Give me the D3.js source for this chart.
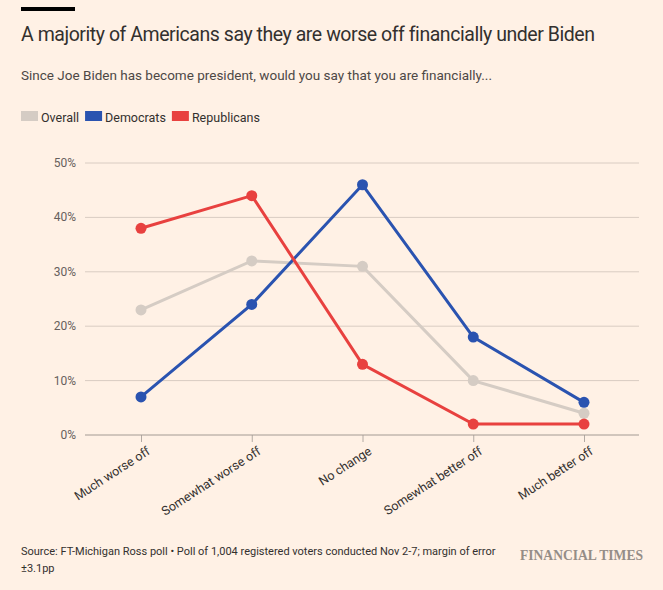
<!DOCTYPE html>
<html><head><meta charset="utf-8">
<script src="https://cdn.jsdelivr.net/npm/d3@7"></script>
<style>
body{margin:0;background:#fff1e5;}
svg{display:block;}
</style></head>
<body>
<svg id="c" width="663" height="590" font-family="Roboto, 'Noto Sans', sans-serif"></svg>
<script>
const categories = ["Much worse off","Somewhat worse off","No change","Somewhat better off","Much better off"];
const overall = [23, 32, 31, 10, 4];
const democrats = [7, 24, 46, 18, 6];
const republicans = [38, 44, 13, 2, 2];
const yTicks = [0, 10, 20, 30, 40, 50];
const seriesNames = ["Overall","Democrats","Republicans"];
const seriesColors = ["#d5ccc4","#2a53b0","#e8413f"];

const svg = d3.select("#c");
svg.append("rect").attr("width",663).attr("height",590).attr("fill","#fff1e5");
svg.append("rect").attr("x",21).attr("y",7).attr("width",54).attr("height",4).attr("fill","#000");
svg.append("text").attr("x",21).attr("y",41).attr("font-size",19.5).attr("fill","#33302e")
  .attr("letter-spacing",-0.45)
  .text("A majority of Americans say they are worse off financially under Biden");
svg.append("text").attr("x",21).attr("y",80).attr("font-size",13.5).attr("fill","#4d4845")
  .text("Since Joe Biden has become president, would you say that you are financially...");

// legend
const leg = svg.append("g");
let lx = 21;
seriesNames.forEach((n,i)=>{
  leg.append("rect").attr("x",lx).attr("y",111).attr("width",17).attr("height",10).attr("fill",seriesColors[i]);
  const t = leg.append("text").attr("x",lx+20).attr("y",121.5).attr("font-size",12.5).attr("fill","#33302e").text(n);
  lx += 20 + t.node().getComputedTextLength() + 6;
});

const x = d3.scalePoint().domain(categories).range([141,584]);
const y = d3.scaleLinear().domain([0,50]).range([435,163]);

const g = svg.append("g");
g.selectAll("line.grid").data(yTicks.filter(d=>d>0)).join("line")
  .attr("x1",85).attr("x2",639).attr("y1",d=>y(d)).attr("y2",d=>y(d))
  .attr("stroke","#d9ccc2").attr("stroke-width",1);
g.selectAll("text.yl").data(yTicks).join("text")
  .attr("x",76).attr("y",d=>y(d)+4).attr("text-anchor","end")
  .attr("font-size",12).attr("fill","#66605c").text(d=>d+"%");

// x axis
const xa = svg.append("g").attr("transform","translate(0,435)")
  .call(d3.axisBottom(x).tickSize(7).tickSizeOuter(0));
xa.select(".domain").remove();
xa.append("line").attr("x1",85).attr("x2",639).attr("stroke","#a39a93").attr("stroke-width",1);
xa.selectAll(".tick line").attr("stroke","#b3aaa3");
xa.selectAll(".tick text").attr("font-size",12.5).attr("fill","#33302e")
  .attr("font-family","Roboto, sans-serif")
  .attr("text-anchor","end").attr("dy",0).attr("dx",0)
  .attr("transform","translate(4,10) rotate(-33)");

const line = d3.line().x((d,i)=>x(categories[i])).y(d=>y(d));
const data = [overall, democrats, republicans];
data.forEach((s,k)=>{
  svg.append("path").datum(s).attr("d",line).attr("fill","none")
    .attr("stroke",seriesColors[k]).attr("stroke-width",3);
  svg.append("g").selectAll("circle").data(s).join("circle")
    .attr("cx",(d,i)=>x(categories[i])).attr("cy",d=>y(d)).attr("r",5.5)
    .attr("fill",seriesColors[k]);
});

svg.append("text").attr("x",21).attr("y",555).attr("font-size",11).attr("fill","#33302e")
  .text("Source: FT-Michigan Ross poll • Poll of 1,004 registered voters conducted Nov 2-7; margin of error");
svg.append("text").attr("x",21).attr("y",572).attr("font-size",11).attr("fill","#33302e").text("±3.1pp");
svg.append("text").attr("x",520).attr("y",560).attr("font-size",15).attr("font-weight","bold")
  .attr("font-family","'Liberation Serif', 'DejaVu Serif', serif").attr("fill","#958d87")
  .attr("textLength",123).attr("lengthAdjust","spacingAndGlyphs").text("FINANCIAL TIMES");
</script>
</body></html>
